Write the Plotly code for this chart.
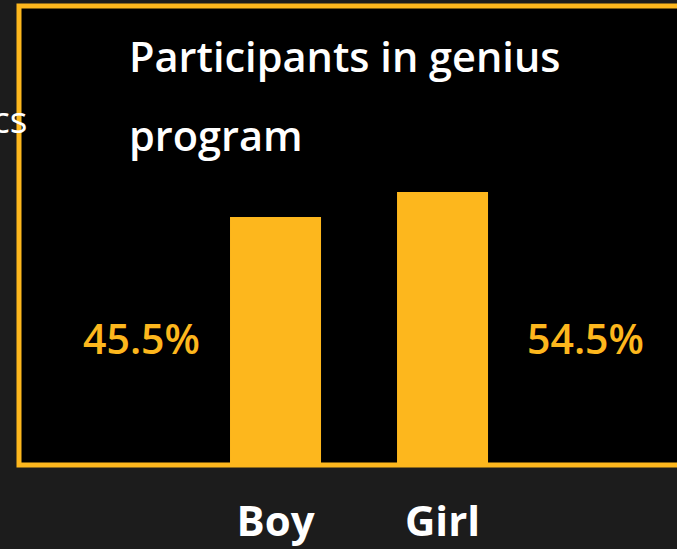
import plotly.graph_objects as go

# ---- data ----
categories = ["Boy", "Girl"]
values = [45.5, 54.5]
value_labels = ["45.5%", "54.5%"]
title_lines = ["Participants in genius", "program"]
side_text = "cs"

# ---- style / layout ----
W, H = 677, 549
ML, MR, MT, MB = 19, 0, 6, 84
ORANGE = "#FDB71D"
BG = "#1c1c1c"
FONT = "Open Sans"
y_floor = -43.8
y_top = 121.5
x_range = [-1.536, 2.404]

PW = W - ML - MR
PH = H - MT - MB


def px_x(px):
    return (px - ML) / PW


def px_y(py):
    return 1 - (py - MT) / PH


fig = go.Figure()
fig.add_trace(go.Bar(
    x=categories,
    y=[v - y_floor for v in values],
    base=y_floor,
    width=0.545,
    marker=dict(color=ORANGE, line=dict(width=0)),
    hoverinfo="skip",
))

annotations = []
# percentage labels beside the bars
for cat, lab, shift in zip(categories, value_labels, [-134.5, 142.5]):
    annotations.append(dict(
        x=cat, y=0, xref="x", yref="y", text=lab, showarrow=False,
        xanchor="center", yanchor="middle", xshift=shift, yshift=5,
        font=dict(family=FONT, size=41, color=ORANGE, weight=600),
    ))
# title (two lines, wide spacing)
for line, py in zip(title_lines, [56, 135]):
    annotations.append(dict(
        x=px_x(127), y=px_y(py), xref="paper", yref="paper", text=line,
        showarrow=False, xanchor="left", yanchor="middle",
        font=dict(family=FONT, size=41.5, color="white", weight=600),
    ))
# cut-off text at left edge
annotations.append(dict(
    x=px_x(29), y=px_y(119), xref="paper", yref="paper", text=side_text,
    showarrow=False, xanchor="right", yanchor="middle",
    font=dict(family=FONT, size=37, color="white"),
))

fig.update_layout(
    width=W, height=H,
    margin=dict(l=ML, r=MR, t=MT, b=MB, pad=0),
    paper_bgcolor=BG, plot_bgcolor="black",
    showlegend=False,
    xaxis=dict(range=x_range, showgrid=False, zeroline=False, showline=False,
               ticks="", ticklabelstandoff=28,
               tickfont=dict(family=FONT, size=42, color="white", weight=700)),
    yaxis=dict(range=[y_floor, y_top], showgrid=False, zeroline=False,
               showline=False, showticklabels=False, ticks=""),
    annotations=annotations,
    shapes=[dict(type="rect", xref="paper", yref="paper", x0=0, x1=1.2,
                 y0=0, y1=1, line=dict(color=ORANGE, width=5), layer="above")],
)

fig.write_html("out.html", config={"displayModeBar": False},
               post_script="document.body.style.margin='0';document.body.style.overflow='hidden';")
